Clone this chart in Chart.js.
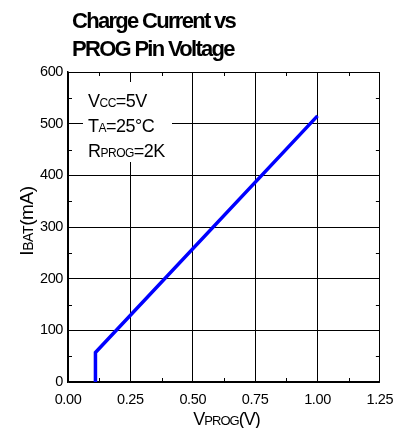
<!DOCTYPE html>
<html><head><meta charset="utf-8">
<script src="https://cdn.jsdelivr.net/npm/chart.js@4/dist/chart.umd.min.js"></script>
<style>html,body{margin:0;padding:0;background:#fff}#wrap{width:403px;height:428px;position:relative}</style>
</head><body><div id="wrap"><canvas id="c" width="403" height="428"></canvas></div>
<script>
const vprog = [0.11, 0.11, 1.0];
const ibat = [0, 57, 515];
const xTicks = [0, 0.25, 0.5, 0.75, 1.0, 1.25];
const yTicks = [0, 100, 200, 300, 400, 500, 600];
const titleLines = ["Charge Current vs", "PROG Pin Voltage"];
const conditions = [[["V",0],["CC",1],["=5V",0]], [["T",0],["A",1],["=25°C",0]], [["R",0],["PROG",1],["=2K",0]]];
const yLabel = [["I",0],["BAT",1],["(mA)",0]];
const xLabel = [["V",0],["PROG",1],["(V)",0]];

const FONT = '"Liberation Sans", Arial, sans-serif';
function runsWidth(ctx, runs, big, small){
  let w=0; for(const [t,s] of runs){ctx.font=(s?small:big)+'px '+FONT; w+=ctx.measureText(t).width;} return w;
}
function drawRuns(ctx, runs, x, y, big, small){
  for(const [t,s] of runs){ctx.font=(s?small:big)+'px '+FONT; ctx.fillText(t,x,y); x+=ctx.measureText(t).width;}
}
const deco = {
  id:'deco',
  beforeDraw(chart){ chart.ctx.letterSpacing='-0.4px'; },
  afterDatasetsDraw(chart){
    const ctx=chart.ctx, ca=chart.chartArea, xs=chart.scales.x, ys=chart.scales.y;
    ctx.save();
    // minor ticks
    ctx.strokeStyle='#000'; ctx.lineWidth=1;
    for(let i=0;i<yTicks.length-1;i++){
      const py=Math.round(ys.getPixelForValue((yTicks[i]+yTicks[i+1])/2))+0.5;
      ctx.beginPath();ctx.moveTo(ca.left,py);ctx.lineTo(ca.left+4,py);ctx.moveTo(ca.right,py);ctx.lineTo(ca.right-4,py);ctx.stroke();
    }
    for(let i=0;i<xTicks.length-1;i++){
      const px=Math.round(xs.getPixelForValue((xTicks[i]+xTicks[i+1])/2))+0.5;
      ctx.beginPath();ctx.moveTo(px,ca.bottom);ctx.lineTo(px,ca.bottom-4);ctx.moveTo(px,ca.top);ctx.lineTo(px,ca.top+4);ctx.stroke();
    }
    // condition box
    ctx.fillStyle='#fff';
    ctx.fillRect(83, 82, 89, 80);
    ctx.fillStyle='#000'; ctx.textBaseline='alphabetic'; ctx.textAlign='left';
    ctx.letterSpacing='-0.5px';
    const ys0=[106.5,131.5,156.5];
    conditions.forEach((r,i)=>drawRuns(ctx,r,88,ys0[i],18,12));
    // title
    ctx.letterSpacing='-1.7px';
    ctx.font='bold 22px '+FONT;
    ctx.fillText(titleLines[0],72,28);
    ctx.fillText(titleLines[1],72,56);
    // x label
    ctx.letterSpacing='-1px';
    const wx=runsWidth(ctx,xLabel,18,13);
    drawRuns(ctx,xLabel,226.5-wx/2,425,18,13);
    // y label
    ctx.letterSpacing='-0.4px';
    const wy=runsWidth(ctx,yLabel,19,14);
    ctx.translate(33,221);
    ctx.rotate(-Math.PI/2);
    drawRuns(ctx,yLabel,-wy/2,0,19,14);
    ctx.restore();
  }
};
new Chart(document.getElementById('c'),{
  type:'scatter',
  data:{datasets:[{data:vprog.map((v,i)=>({x:v,y:ibat[i]})),showLine:true,borderColor:'#0000ff',backgroundColor:'#0000ff',borderWidth:3.5,pointRadius:0,tension:0}]},
  options:{
    responsive:false,animation:false,
    layout:{padding:{left:0,right:22,top:72,bottom:0}},
    plugins:{legend:{display:false},tooltip:{enabled:false},title:{display:false}},
    scales:{
      x:{type:'linear',min:0,max:1.25,
        afterBuildTicks(s){s.ticks=xTicks.map(v=>({value:v}));},
        afterFit(s){s.height=46;},
        grid:{color:'#000',lineWidth:1,drawTicks:false},
        border:{color:'#000',width:1.5},
        ticks:{padding:9,color:'#000',font:{family:FONT,size:14.5},callback:v=>v.toFixed(2)}},
      y:{type:'linear',min:0,max:600,
        afterBuildTicks(s){s.ticks=yTicks.map(v=>({value:v}));},
        afterFit(s){s.width=68;},
        grid:{color:'#000',lineWidth:1,drawTicks:false},
        border:{color:'#000',width:1.5},
        ticks:{padding:5,color:'#000',font:{family:FONT,size:14.5}}}
    }
  },
  plugins:[deco]
});
</script></body></html>
